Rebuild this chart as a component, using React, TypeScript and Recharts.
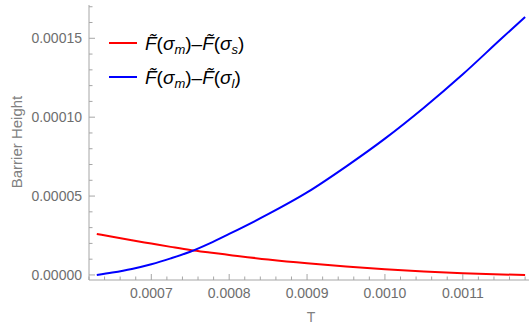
import { LineChart, Line, XAxis, YAxis, Customized } from 'recharts'

// temperature samples and the two barrier heights
const tValues = [0.00063, 0.00065, 0.000675, 0.0007, 0.000725, 0.00075, 0.000775, 0.0008, 0.00085, 0.0009, 0.00095, 0.001, 0.00105, 0.0011, 0.00115, 0.00118]
const barrierS = [2.6e-5, 2.42e-5, 2.2e-5, 1.99e-5, 1.78e-5, 1.58e-5, 1.42e-5, 1.27e-5, 0.98e-5, 0.74e-5, 0.54e-5, 0.36e-5, 0.22e-5, 0.11e-5, 0.03e-5, 0.0]
const barrierL = [0.0, 0.15e-5, 0.38e-5, 0.68e-5, 1.05e-5, 1.47e-5, 2.0e-5, 2.6e-5, 3.85e-5, 5.23e-5, 6.87e-5, 8.64e-5, 10.6e-5, 12.72e-5, 15.0e-5, 16.35e-5]

const xMajor = [0.0007, 0.0008, 0.0009, 0.001, 0.0011]
const xMinor = [0.00062, 0.00064, 0.00066, 0.00068, 0.00072, 0.00074, 0.00076, 0.00078, 0.00082, 0.00084, 0.00086, 0.00088, 0.00092, 0.00094, 0.00096, 0.00098, 0.00102, 0.00104, 0.00106, 0.00108, 0.00112, 0.00114, 0.00116, 0.00118]
const yMajor = [0, 0.00005, 0.0001, 0.00015]
const yMinor = [0.00001, 0.00002, 0.00003, 0.00004, 0.00006, 0.00007, 0.00008, 0.00009, 0.00011, 0.00012, 0.00013, 0.00014, 0.00016, 0.00017]

const data = tValues.map((t, i) => ({ T: t, s: barrierS[i], l: barrierL[i] }))

const FONT = '"Liberation Sans", Arial, sans-serif'
const FRAME = '#a6a6a6'
const TICK_TEXT = '#6e6e6e'
const xDomain = [0.00062, 0.001185]
const yDomain = [-3.2e-6, 1.711e-4]

function BottomTick({ x, y, payload }: any) {
  const major = xMajor.includes(payload.value)
  return (
    <g>
      <line x1={x} x2={x} y1={y} y2={y - (major ? 6 : 3.5)} stroke={FRAME} />
      {major && (
        <text x={x} y={y + 18} textAnchor="middle" fontSize={14} fontFamily={FONT} fill={TICK_TEXT}>
          {payload.value.toFixed(4)}
        </text>
      )}
    </g>
  )
}

function TopTick({ x, y, payload }: any) {
  const major = xMajor.includes(payload.value)
  return <line x1={x} x2={x} y1={y} y2={y + (major ? 6 : 3.5)} stroke={FRAME} />
}

function LeftTick({ x, y, payload }: any) {
  const major = yMajor.includes(payload.value)
  return (
    <g>
      <line x1={x} x2={x + (major ? 6 : 3.5)} y1={y} y2={y} stroke={FRAME} />
      {major && (
        <text x={x - 7} y={y + 5} textAnchor="end" fontSize={14} fontFamily={FONT} fill={TICK_TEXT}>
          {payload.value.toFixed(5)}
        </text>
      )}
    </g>
  )
}

function LegendLabel({ x, y, sub }: { x: number; y: number; sub: string }) {
  return (
    <text x={x} y={y} fontSize={19} fontFamily={FONT} fill="#000">
      <tspan fontStyle="italic">{'F\u0303'}</tspan>
      <tspan>(</tspan>
      <tspan fontStyle="italic">σ</tspan>
      <tspan fontStyle="italic" fontSize={13} dy={4}>m</tspan>
      <tspan dy={-4}>)–</tspan>
      <tspan fontStyle="italic">{'F\u0303'}</tspan>
      <tspan>(</tspan>
      <tspan fontStyle="italic">σ</tspan>
      <tspan fontStyle="italic" fontSize={13} dy={4}>{sub}</tspan>
      <tspan dy={-4}>)</tspan>
    </text>
  )
}

function Overlay() {
  return (
    <g>
      <line x1={109} x2={137} y1={43} y2={43} stroke="#ff0000" strokeWidth={2} />
      <LegendLabel x={145} y={50} sub="s" />
      <line x1={109} x2={137} y1={77} y2={77} stroke="#0000ff" strokeWidth={2} />
      <LegendLabel x={145} y={84} sub="l" />
      <text x={311} y={322} textAnchor="middle" fontSize={14} fontFamily={FONT} fill="#808080">T</text>
      <text x={22} y={142} transform="rotate(-90, 22, 142)" textAnchor="middle" fontSize={15} fontFamily={FONT} fill="#808080">
        Barrier Height
      </text>
    </g>
  )
}

export default function App() {
  return (
    <div style={{ position: 'absolute', left: 0, top: 0, background: '#fff' }}>
      <LineChart width={529} height={325} data={data} margin={{ top: 5, right: 0, bottom: 0, left: 0 }}>
        <XAxis
          dataKey="T"
          type="number"
          domain={xDomain}
          allowDataOverflow
          ticks={[...xMajor, ...xMinor]}
          interval={0}
          tickSize={0}
          tickMargin={0}
          tickLine={false}
          tick={<BottomTick />}
          axisLine={{ stroke: FRAME }}
          height={45}
        />
        <XAxis
          xAxisId="top"
          orientation="top"
          dataKey="T"
          type="number"
          domain={xDomain}
          allowDataOverflow
          ticks={[...xMajor, ...xMinor]}
          interval={0}
          tickSize={0}
          tickMargin={0}
          tickLine={false}
          tick={<TopTick />}
          axisLine={{ stroke: FRAME }}
          height={0}
        />
        <YAxis
          type="number"
          domain={yDomain}
          allowDataOverflow
          ticks={[...yMajor, ...yMinor]}
          interval={0}
          tickSize={0}
          tickMargin={0}
          tickLine={false}
          tick={<LeftTick />}
          axisLine={{ stroke: FRAME }}
          width={89}
        />
        <Line dataKey="s" type="monotone" stroke="#ff0000" strokeWidth={2} dot={false} isAnimationActive={false} />
        <Line dataKey="l" type="monotone" stroke="#0000ff" strokeWidth={2} dot={false} isAnimationActive={false} />
        <Customized component={Overlay} />
      </LineChart>
    </div>
  )
}
